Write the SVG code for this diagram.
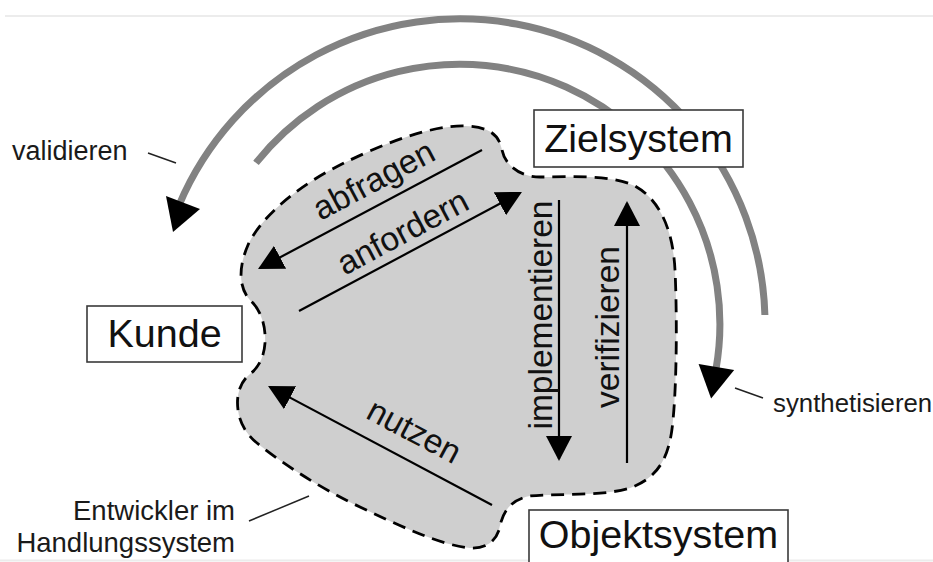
<svg xmlns="http://www.w3.org/2000/svg" width="933" height="562" viewBox="0 0 933 562">
  <defs>
    <style>
      text { font-family: "Liberation Sans", Arial, sans-serif; fill: #111; }
      .box { fill: #fff; stroke: #3a3a3a; stroke-width: 1.6; }
      .big { font-size: 39.5px; text-anchor: middle; }
      .lbl { font-size: 33.5px; text-anchor: middle; }
      .note { font-size: 27px; fill: #1a1a1a; }
      .flow { stroke: #000; stroke-width: 2.2; fill: none; marker-end: url(#ah); }
      .cycle { stroke: #828282; stroke-width: 7; fill: none; }
      .head { fill: #000; }
      .lead { stroke: #222; stroke-width: 1.5; fill: none; }
      .frame { stroke: #ececec; stroke-width: 2; }
      .area { fill: #cfcfcf; stroke: #000; stroke-width: 2.8; stroke-dasharray: 13 8; }
    </style>
    <marker id="ah" viewBox="0 -13 25 26" refX="23" refY="0" markerUnits="userSpaceOnUse" markerWidth="25" markerHeight="26" orient="auto">
      <path d="M0,-13 L25,0 L0,13 Z" fill="#000"/>
    </marker>
  </defs>

  <!-- thin page rules -->
  <line class="frame" x1="5" y1="16" x2="933" y2="16"/>
  <line class="frame" x1="0" y1="560.5" x2="933" y2="560.5"/>

  <!-- outer cycles, drawn beneath the system boxes -->
  <g id="cycles">
    <!-- validieren -->
    <path class="cycle" d="M179.2,204.8 A305,305 0 0 1 764.9,315"/>
    <polygon class="head" points="166,196 200,209 173,232"/>
    <line class="lead" x1="148" y1="153" x2="176" y2="163"/>
    <text class="note" x="12" y="160">validieren</text>

    <!-- synthetisieren -->
    <path class="cycle" d="M256,162.9 A260,260 0 0 1 716,369.1"/>
    <polygon class="head" points="698.6,363.9 734.2,369.9 711.1,398.5"/>
    <line class="lead" x1="735" y1="388" x2="763" y2="398"/>
    <text class="note" x="773" y="412" style="font-size:25.8px">synthetisieren</text>
  </g>

  <!-- developer area -->
  <g id="entwickler">
    <path class="area" d="M253,303 C262,313 266,328 265,343 C264,358 258,368 250,374 C240,382 236,395 238,410 C240,425 248,437 262,447 C285,465 320,488 360,507 C400,526 440,545 470,548 C485,549 495,542 499,530 C502,515 508,500 530,496 C560,493 610,497 635,486 C660,475 670,455 673,420 C677,380 677,310 675,270 C673,230 660,200 635,186 C610,174 570,177 540,177 C520,177 505,165 502,150 C499,135 490,127 465,126 C430,125 380,145 340,165 C300,185 262,215 248,245 C238,268 238,290 253,303 Z"/>
    <line class="lead" x1="249" y1="521" x2="309" y2="496"/>
    <text class="note" x="235" y="520" text-anchor="end" style="font-size:27.5px">Entwickler im</text>
    <text class="note" x="235" y="552" text-anchor="end" style="font-size:27.5px">Handlungssystem</text>
  </g>

  <!-- systems -->
  <g id="kunde">
    <rect class="box" x="87" y="306" width="155" height="56"/>
    <text class="big" x="164.5" y="347">Kunde</text>
  </g>
  <g id="zielsystem">
    <rect class="box" x="534" y="110" width="209" height="57"/>
    <text class="big" x="638.5" y="152">Zielsystem</text>
  </g>
  <g id="objektsystem">
    <rect class="box" x="529" y="510" width="259" height="60"/>
    <text class="big" x="658.5" y="548">Objektsystem</text>
  </g>

  <!-- activity arrows inside the area -->
  <g id="connectors">
    <!-- abfragen -->
    <line class="flow" x1="482" y1="150" x2="259.8" y2="268.1"/>
    <text class="lbl" x="379" y="190" transform="rotate(-28 379 190)">abfragen</text>

    <!-- anfordern -->
    <line class="flow" x1="299" y1="311" x2="520.2" y2="192.9"/>
    <text class="lbl" x="408" y="242" transform="rotate(-28 408 242)">anfordern</text>

    <!-- implementieren -->
    <line class="flow" x1="559" y1="200" x2="559" y2="459"/>
    <text class="lbl" x="552" y="315" transform="rotate(-90 552 315)">implementieren</text>

    <!-- verifizieren -->
    <line class="flow" x1="627" y1="463" x2="627" y2="203"/>
    <text class="lbl" x="619" y="327" transform="rotate(-90 619 327)">verifizieren</text>

    <!-- nutzen -->
    <line class="flow" x1="492" y1="505" x2="269.8" y2="386.9"/>
    <text class="lbl" x="409" y="441" transform="rotate(28 409 441)">nutzen</text>
  </g>
</svg>
